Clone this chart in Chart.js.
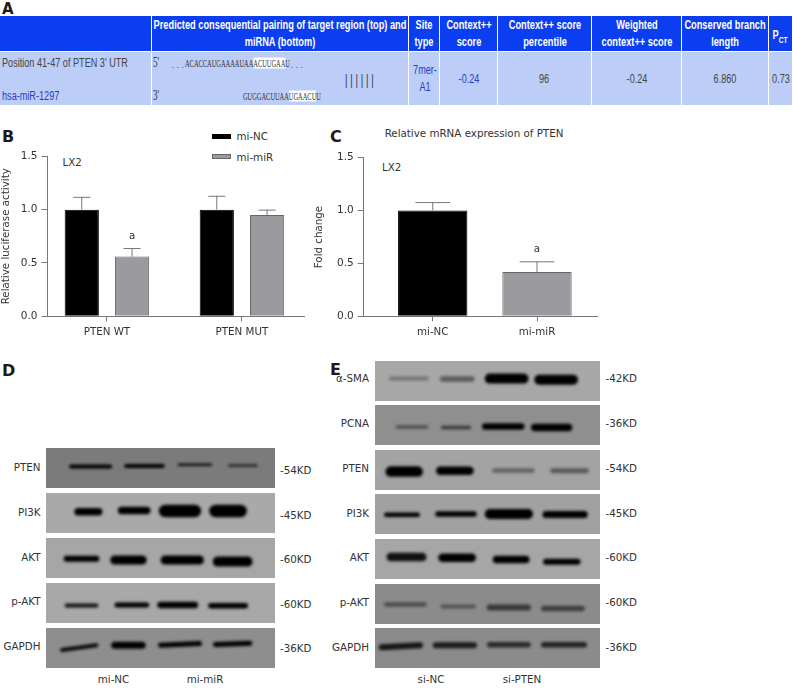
<!DOCTYPE html>
<html>
<head>
<meta charset="utf-8">
<script src="https://cdn.jsdelivr.net/npm/chart.js@4"></script>
<style>
html, body { margin: 0; padding: 0; background: #fff; }
#page { position: relative; width: 793px; height: 688px; overflow: hidden; font-family: "DejaVu Sans", sans-serif; color: #333; }
.t { position: absolute; white-space: nowrap; font-size: 10.3px; transform: translateY(-50%); }
.r { transform: translate(-100%, -50%); }
.c { transform: translate(-50%, -50%); }
.letter { font-weight: bold; font-size: 16px; color: #231815; }
.box { position: absolute; }
.box canvas { display: block; }
.grid { position: absolute; background: #bccdf7; }
.grid.head { background: #0b3ef0; }
.cell { position: absolute; white-space: nowrap; font-family: "Liberation Sans", sans-serif; font-size: 12px; color: #444; }
.cell.white { color: #fff; font-weight: bold; font-size: 12.5px; }
.blue { color: #2b3cc4; }
.seq { position: absolute; font-family: "Liberation Serif", serif; font-size: 10px; white-space: nowrap; transform: translateY(-50%) scaleX(.64); transform-origin: left center; color: #333; }
.seq b { font-weight: normal; background: #fff; }
</style>
</head>
<body>
<div id="page">
<script>
// panel B
const groupsB = ["PTEN WT", "PTEN MUT"];
const seriesNames = ["mi-NC", "mi-miR"];
const miNcB = [1.0, 1.0];
const miMirB = [0.56, 0.95];
const miNcErrB = [0.12, 0.13];
const miMirErrB = [0.08, 0.05];
const yTicks = [0, 0.5, 1, 1.5];

// panel C
const groupsC = ["mi-NC", "mi-miR"];
const foldC = [1.0, 0.42];
const foldErrC = [0.08, 0.10];

// western blot bands, one row per lane: from, to, y start, y end (percent of strip), thickness (percent of strip), density
const dPten = [[11, 28, 46, 46, 8, 1], [35, 51, 45, 45, 8, 1], [58, 72, 42, 42, 5, .9], [80, 92, 44, 44, 4, .9]];
const dPi3k = [[14, 23, 47, 47, 15, 1], [33, 44, 44, 44, 15, 1], [52, 65, 45, 45, 25, 1], [74, 85, 45, 45, 25, 1]];
const dAkt = [[9, 22, 52, 52, 12, 1], [30, 42, 55, 55, 18, 1], [52, 67, 55, 55, 18, 1], [75, 88, 59, 59, 20, 1]];
const dPakt = [[9, 22, 56, 56, 8, .9], [31, 44, 55, 55, 10, 1], [50, 65, 55, 55, 13, 1], [72, 87, 57, 57, 11, 1]];
const dGapdh = [[7, 22, 55, 43, 8, .95], [30, 42, 43, 43, 14, 1], [50, 67, 43, 39, 10, 1], [74, 89, 41, 38, 10, 1]];

const eSma = [[7, 23, 44, 44, 8, .3], [30, 43, 45, 45, 11, .45], [51, 66, 44, 44, 20, 1], [73, 88, 47, 47, 20, 1]];
const ePcna = [[10, 23, 55, 55, 7, .45], [30, 42, 56, 56, 7, .6], [49, 65, 54, 54, 13, 1], [71, 86, 56, 56, 15, 1]];
const ePten2 = [[7, 19, 54, 54, 21, 1], [29, 42, 52, 52, 17, 1], [53, 70, 51, 51, 9, .4], [79, 94, 52, 52, 10, .45]];
const ePi3k = [[5, 19, 52, 52, 9, 1], [28, 44, 50, 50, 11, 1], [51, 68, 50, 50, 20, 1], [76, 93, 51, 51, 14, 1]];
const eAkt = [[7, 21, 45, 45, 17, .9], [30, 43, 47, 47, 17, 1], [54, 67, 51, 51, 15, 1], [76, 90, 57, 57, 12, 1]];
const ePakt = [[5, 22, 51, 51, 9, .45], [30, 44, 56, 56, 8, .4], [51, 68, 59, 59, 12, .6], [75, 92, 61, 61, 11, .55]];
const eGapdh = [[3, 20, 48, 43, 12, .85], [27, 44, 43, 43, 12, .8], [51, 68, 42, 42, 11, .7], [75, 93, 42, 42, 11, .75]];

const blotNamesD = ["PTEN", "PI3K", "AKT", "p-AKT", "GAPDH"];
const blotSizesD = ["-54KD", "-45KD", "-60KD", "-60KD", "-36KD"];
const blotBandsD = [dPten, dPi3k, dAkt, dPakt, dGapdh];
const blotNamesE = ["\u03b1-SMA", "PCNA", "PTEN", "PI3K", "AKT", "p-AKT", "GAPDH"];
const blotSizesE = ["-42KD", "-36KD", "-54KD", "-45KD", "-60KD", "-60KD", "-36KD"];
const blotBandsE = [eSma, ePcna, ePten2, ePi3k, eAkt, ePakt, eGapdh];

// table of panel A: text, centre x, centre y
const headCells = [
    ["Predicted consequential pairing of target region (top) and", 280, 25],
    ["miRNA (bottom)", 280, 41.5],
    ["Site", 424, 25], ["type", 424, 41.5],
    ["Context++", 469, 25], ["score", 469, 41.5],
    ["Context++ score", 545, 25], ["percentile", 545, 41.5],
    ["Weighted", 637, 25], ["context++ score", 637, 41.5],
    ["Conserved branch", 725, 25], ["length", 725, 41.5]
];
const rowCells = [["96", 544, 79], ["-0.24", 637, 79], ["6.860", 725, 79], ["0.73", 781, 79]];
const blueCells = [["7mer-", 425, 70], ["A1", 425, 87], ["-0.24", 469, 79]];
const columnEdges = [0, 152, 409, 440, 498, 592, 682, 769, 793];

const page = document.getElementById("page");
function addText(text, x, y, cls, size) {
    var el = document.createElement("div");
    el.className = "t " + (cls || "");
    el.textContent = text;
    el.style.left = x + "px";
    el.style.top = y + "px";
    if (size) el.style.fontSize = size + "px";
    page.appendChild(el);
    return el;
}
function addCell(text, x, y, cls, left) {
    var el = document.createElement("div");
    var sx = cls == "white" ? .74 : .76;
    el.className = "cell " + cls;
    el.textContent = text;
    el.style.left = x + "px";
    el.style.top = y + "px";
    el.style.transform = left ? "translateY(-50%) scaleX(" + sx + ")" : "translate(-50%, -50%) scaleX(" + sx + ")";
    el.style.transformOrigin = left ? "left center" : "center";
    page.appendChild(el);
    return el;
}
for (var c = 0; c < columnEdges.length - 1; c++) {
    [[16, 35, "grid head"], [52, 53, "grid"]].forEach(function (r) {
        var d = document.createElement("div");
        d.className = r[2];
        d.style.left = columnEdges[c] + "px";
        d.style.top = r[0] + "px";
        d.style.width = (columnEdges[c + 1] - columnEdges[c] - 1) + "px";
        d.style.height = r[1] + "px";
        page.appendChild(d);
    });
}
headCells.forEach(function (h) { addCell(h[0], h[1], h[2], "white"); });
rowCells.forEach(function (h) { addCell(h[0], h[1], h[2], ""); });
blueCells.forEach(function (h) { addCell(h[0], h[1], h[2], "blue"); });
addCell("Position 41-47 of PTEN 3' UTR", 2, 62.7, "", true);
addCell("hsa-miR-1297", 2, 96, "blue", true);
var pct = addCell("", 780, 35, "white");
pct.innerHTML = "P<sub style='font-size:9px;line-height:0'>CT</sub>";

function addSeq(html, x, y) {
    var el = document.createElement("div");
    el.className = "seq";
    el.innerHTML = html;
    el.style.left = x + "px";
    el.style.top = y + "px";
    page.appendChild(el);
}
addSeq("<span style='font-size:14px'>5'</span>", 153, 63);
addSeq("<span style='font-size:14px'>3'</span>", 153, 96);
addSeq("<span style='letter-spacing:5px;font-size:11px'>...</span>", 172, 64);
addSeq("ACACCAUGAAAAUAA<b>ACUUGAA</b>U", 185, 63);
addSeq("<span style='letter-spacing:5px;font-size:11px'>...</span>", 291, 64);
addSeq("GUGGACUUAA<b>UGAACU</b>U", 243, 96);
addSeq("<span style='font-size:15px;letter-spacing:4.3px;font-family:Liberation Sans'>||||||</span>", 345, 79);

// panel letters and free labels
addText("A", 2, 9, "letter", 15);
addText("B", 2, 136, "letter");
addText("C", 330, 136, "letter");
addText("D", 2, 370, "letter");
addText("E", 330, 369, "letter");
addText("LX2", 62.5, 162);
addText("LX2", 382, 167);
addText("Relative mRNA expression of PTEN", 474, 133, "c");

// legend of panel B
[0, 1].forEach(function (i) {
    var sw = document.createElement("div");
    sw.style.cssText = "position:absolute;left:212px;width:19px;height:5px;top:" + (133.5 + i * 20.5) + "px;" +
        (i ? "background:#9b9b9f;border:1px solid #666;box-sizing:border-box;" : "background:#000;");
    page.appendChild(sw);
    addText(seriesNames[i], 236.5, 136 + i * 20.5);
});

// whiskers and significance letters, taken from the chart scales
const errorBars = {
    id: "errorBars",
    afterDatasetsDraw(chart) {
        const ctx = chart.ctx, yScale = chart.scales.y;
        chart.data.datasets.forEach(function (ds, d) {
            chart.getDatasetMeta(d).data.forEach(function (bar, i) {
                var top = yScale.getPixelForValue(ds.data[i].y + ds.errors[i]);
                var base = yScale.getPixelForValue(ds.data[i].y);
                var half = bar.width / 4;
                ctx.save();
                ctx.strokeStyle = "#777";
                ctx.lineWidth = 1;
                ctx.beginPath();
                ctx.moveTo(bar.x, base);
                ctx.lineTo(bar.x, top);
                ctx.moveTo(bar.x - half, top + .5);
                ctx.lineTo(bar.x + half, top + .5);
                ctx.stroke();
                if (ds.marks && ds.marks[i]) {
                    ctx.fillStyle = "#333";
                    ctx.font = '10.3px "DejaVu Sans"';
                    ctx.textAlign = "center";
                    ctx.fillText(ds.marks[i], bar.x, top - 9);
                }
                ctx.restore();
            });
        });
    }
};

function barOptions(names, xMin, xMax, yTitle, yWidth, padTop) {
    return {
        responsive: false,
        animation: false,
        layout: { padding: { top: padTop } },
        plugins: { legend: { display: false }, tooltip: { enabled: false } },
        scales: {
            x: {
                type: "linear", min: xMin, max: xMax, offset: false,
                grid: { display: true, offset: false, drawOnChartArea: false, drawTicks: true, color: "#777", tickLength: 5 },
                border: { color: "#777", width: 1 },
                afterBuildTicks: function (s) { s.ticks = [{ value: 1 }, { value: 2 }]; },
                ticks: {
                    color: "#333", font: { family: "DejaVu Sans", size: 10.3 }, padding: 5, maxRotation: 0,
                    callback: function (v) { return names[v - 1]; }
                },
                afterFit: function (s) { s.height = 18.7; }
            },
            y: {
                min: 0, max: 1.5,
                afterBuildTicks: function (s) { s.ticks = yTicks.map(function (v) { return { value: v }; }); },
                grid: { display: true, drawOnChartArea: false, drawTicks: true, tickLength: 6, color: "#777" },
                border: { color: "#777", width: 1 },
                title: { display: true, text: yTitle, color: "#333", font: { family: "DejaVu Sans", size: 10.3 }, padding: 0 },
                ticks: {
                    color: "#333", font: { family: "DejaVu Sans", size: 10.5 }, padding: 4,
                    callback: function (v) { return v.toFixed(1); }
                },
                afterFit: function (s) { s.width = yWidth; }
            }
        }
    };
}
function pts(values) {
    return values.map(function (v, i) { return { x: i + 1, y: v }; });
}

function addCanvas(left, top, width, height) {
    var box = document.createElement("div");
    box.className = "box";
    box.style.cssText = "left:" + left + "px;top:" + top + "px;width:" + width + "px;height:" + height + "px";
    var cv = document.createElement("canvas");
    cv.width = width;
    cv.height = height;
    box.appendChild(cv);
    page.appendChild(box);
    return cv;
}

new Chart(addCanvas(0, 115, 305, 220), {
    type: "bar",
    data: {
        datasets: [
            { label: seriesNames[0], data: pts(miNcB), errors: miNcErrB, backgroundColor: "#000", borderColor: "#000", borderWidth: 1, categoryPercentage: .745, barPercentage: .68 },
            { label: seriesNames[1], data: pts(miMirB), errors: miMirErrB, marks: ["a", ""], backgroundColor: "#9b9b9f", borderColor: "#666", borderWidth: 1, categoryPercentage: .745, barPercentage: .68 }
        ]
    },
    options: barOptions(groupsB, 0.56, 2.43 + 5 / 135, "Relative luciferase activity", 47.5, 41.3),
    plugins: [errorBars]
});

new Chart(addCanvas(313, 115, 285, 220), {
    type: "bar",
    data: {
        datasets: [
            { label: "PTEN", data: pts(foldC), errors: foldErrC, marks: ["", "a"], backgroundColor: ["#000", "#9b9b9f"], borderColor: ["#000", "#666"], borderWidth: 1, categoryPercentage: 1, barPercentage: .665 }
        ]
    },
    options: barOptions(groupsC, 0.338, 2.508 + 8 / 104.3, "Fold change", 50.7, 42.7),
    plugins: [errorBars]
});

// one small scatter chart per blot strip, every band is a thick blurred line
function addBlot(bands, bg, left, top, width, height) {
    var cv = addCanvas(left, top, width, height);
    cv.parentNode.style.overflow = "hidden";
    cv.parentNode.style.background = bg;
    cv.style.filter = "blur(1.5px)";
    new Chart(cv, {
        type: "scatter",
        data: {
            datasets: bands.map(function (b) {
                return {
                    data: [{ x: b[0], y: b[2] }, { x: b[1], y: b[3] }],
                    showLine: true,
                    pointRadius: 0,
                    borderColor: "rgba(0,0,0," + b[5] + ")",
                    borderWidth: b[4] * 1.25 / 100 * height,
                    borderCapStyle: "round"
                };
            })
        },
        options: {
            responsive: false,
            animation: false,
            layout: { padding: 0 },
            plugins: { legend: { display: false }, tooltip: { enabled: false } },
            scales: {
                x: { type: "linear", min: 0, max: 100, display: false },
                y: { type: "linear", min: 0, max: 100, reverse: true, display: false }
            }
        }
    });
}

const bgD = ["#7b7b7b", "#a9a9a9", "#a6a6a6", "#a8a8a8", "#8e8e8e"];
const topD = [448, 493, 538, 583, 628];
const labelYD = [467, 512, 556.5, 601, 645.5];
blotBandsD.forEach(function (bands, i) {
    addBlot(bands, bgD[i], 46, topD[i], 229, 40);
    addText(blotNamesD[i], 40.5, labelYD[i], "r");
    addText(blotSizesD[i], 280, labelYD[i] + 2.5);
});
addText("mi-NC", 113.5, 679, "c");
addText("mi-miR", 205, 679, "c");

const bgE = ["#a7a7a7", "#8f8f8f", "#a3a3a3", "#a1a1a1", "#a6a6a6", "#8b8b8b", "#8b8b8b"];
const topE = [361, 405, 450, 494, 539, 584, 628];
const labelYE = [378, 423, 468, 513, 557, 602, 646.5];
blotBandsE.forEach(function (bands, i) {
    addBlot(bands, bgE[i], 375, topE[i], 225, 40);
    addText(blotNamesE[i], 369, labelYE[i], "r");
    addText(blotSizesE[i], 605.5, labelYE[i]);
});
addText("si-NC", 431, 679, "c");
addText("si-PTEN", 522, 679, "c");
</script>
</div>
</body>
</html>
